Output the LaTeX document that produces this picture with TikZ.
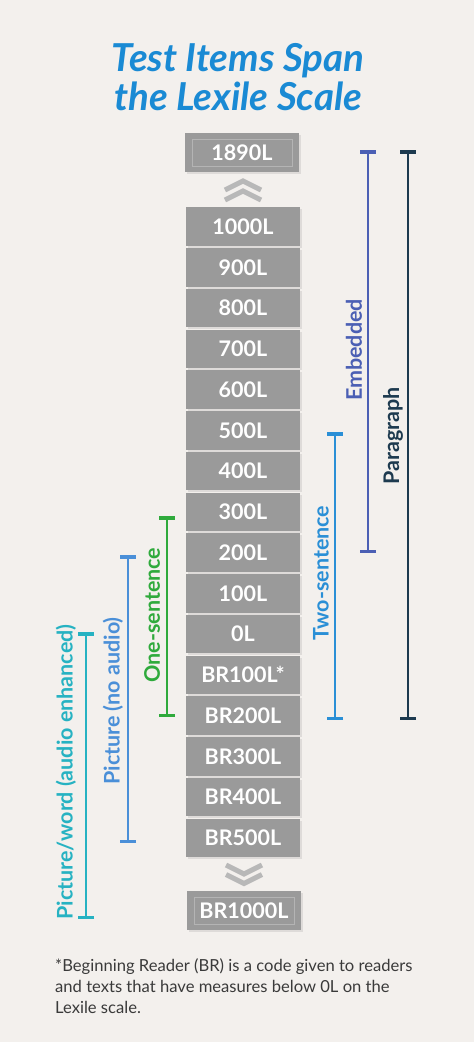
\documentclass[tikz,border=0pt]{standalone}
\usepackage{fontspec}
\setmainfont{Lato}
\usetikzlibrary{arrows.meta,positioning,calc,shadows}

\definecolor{bgc}{HTML}{F3F0ED}
\definecolor{boxgray}{HTML}{9A9A9A}
\definecolor{framegray}{HTML}{B4B4B4}
\definecolor{chevgray}{HTML}{B8B8B8}
\definecolor{titleblue}{HTML}{1A8AD4}
\definecolor{pwc}{HTML}{26B2C2}
\definecolor{pnc}{HTML}{4A8FD8}
\definecolor{onec}{HTML}{2FAA3C}
\definecolor{twoc}{HTML}{2A8FD6}
\definecolor{embc}{HTML}{4B5FB4}
\definecolor{parc}{HTML}{1D3A4F}
\definecolor{notec}{HTML}{3A3A3A}

\tikzset{
  lex/.style={fill=boxgray, text=white, minimum width=114pt, minimum height=38.5pt,
    inner sep=0pt, font=\fontsize{21.5}{24}\selectfont\bfseries,
    drop shadow={shadow xshift=1.5pt, shadow yshift=-2pt, opacity=0.18}},
  chev/.style={draw=chevgray, line width=5pt},
  span/.style={line width=2pt, {Bar[width=16pt,line width=3.5pt]}-{Bar[width=16pt,line width=3.5pt]}},
  spanlabel/.style={rotate=90, inner sep=0pt, font=\fontsize{21.5}{24}\selectfont\bfseries}
}

\begin{document}
\begin{tikzpicture}[x=1pt,y=-1pt]
  \fill[bgc] (0,0) rectangle (474,1042);
  \useasboundingbox (0,0) rectangle (474,1042);

  % title
  \node[titleblue, align=center, font=\fontsize{38.5}{39.5}\selectfont\bfseries\itshape] (title) at (238,77)
    {Test Items Span\\the Lexile Scale};

  % lexile column
  \foreach \lab [count=\i from 0] in {1000L,900L,800L,700L,600L,500L,400L,300L,200L,100L,0L,BR100L*,BR200L,BR300L,BR400L,BR500L}
    \node[lex] (r\i) at (243,{226.5+\i*40.75}) {\lab};

  \node[lex] (top) at (242,152.5) {1890L};
  \draw[framegray] ($(top.south west)+(7,-6)$) rectangle ($(top.north east)+(-7,6)$);
  \node[lex] (bot) at (244,910.5) {BR1000L};
  \draw[framegray] ($(bot.south west)+(7,-6)$) rectangle ($(bot.north east)+(-7,6)$);

  % chevrons
  \draw[chev] (225,190) -- (243,181) -- (261,190);
  \draw[chev] (225,200) -- (243,191) -- (261,200);
  \draw[chev] (226,865) -- (244,874) -- (262,865);
  \draw[chev] (226,874.5) -- (244,883.5) -- (262,874.5);

  % span ends
  \coordinate (pw-a) at (86,632);   \coordinate (pw-b) at (86,919);
  \coordinate (pn-a) at (128,555);  \coordinate (pn-b) at (128,843);
  \coordinate (one-a) at (167,516); \coordinate (one-b) at (167,717);
  \coordinate (two-a) at (335,432); \coordinate (two-b) at (335,720);
  \coordinate (emb-a) at (368,150); \coordinate (emb-b) at (368,553);
  \coordinate (par-a) at (408,150); \coordinate (par-b) at (408,720);

  \draw[span, pwc] (pw-a) -- (pw-b);
  \draw[span, pnc] (pn-a) -- (pn-b);
  \draw[span, onec] (one-a) -- (one-b);
  \draw[span, twoc] (two-a) -- (two-b);
  \draw[span, embc] (emb-a) -- (emb-b);
  \draw[span, parc] (par-a) -- (par-b);

  \node[spanlabel, pwc] (pw) at (66,772) {Picture/word (audio enhanced)};
  \node[spanlabel, pnc] (pn) at (113,701) {Picture (no audio)};
  \node[spanlabel, onec] (one) at (152,615) {One-sentence};
  \node[spanlabel, twoc] (two) at (321,573) {Two-sentence};
  \node[spanlabel, embc] (emb) at (354,350) {Embedded};
  \node[spanlabel, parc] (par) at (393,436) {Paragraph};

  % footnote
  \node[notec, anchor=north west, align=left, inner sep=0pt,
    font=\fontsize{16.6}{21}\selectfont] (note) at (55,958)
    {*Beginning Reader (BR) is a code given to readers\\
     and texts that have measures below 0L on the\\
     Lexile scale.};
\end{tikzpicture}
\end{document}
